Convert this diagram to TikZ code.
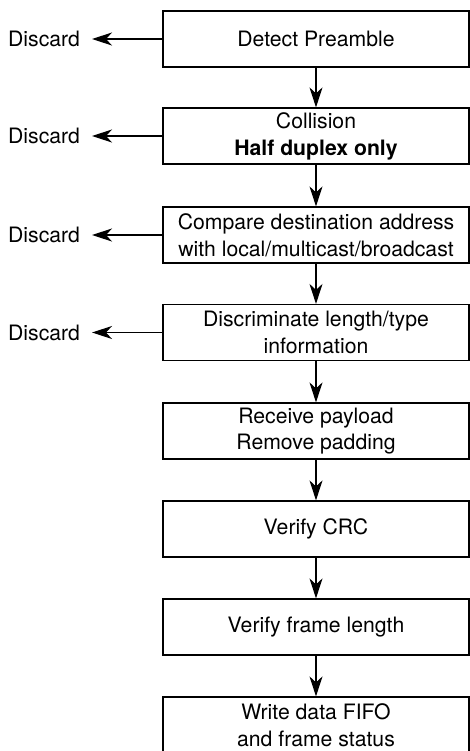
\documentclass[tikz,border=0pt]{standalone}
\usepackage{fontspec}
\setmainfont{TeX Gyre Heros}
\usepackage{tikz}
\usetikzlibrary{arrows.meta}

\begin{document}
\begin{tikzpicture}[
  x=0.5pt, y=-0.5pt,
  stagebox/.style={draw, line width=0.6pt, align=center, minimum width=153pt, minimum height=28pt, inner sep=0pt,
    font=\fontsize{10.6}{13.4}\selectfont},
  discardlabel/.style={anchor=east, inner sep=0pt, outer sep=6pt, font=\fontsize{10.6}{13.4}\selectfont},
  arrow/.style={-{Stealth[length=10pt, width=6.5pt, inset=3pt]}, line width=0.6pt}
]
\useasboundingbox (0,0) rectangle (470,751);

\node[stagebox] (preamble) at (316,39) {Detect Preamble};
\node[stagebox] (collision) at (316,136) {Collision\\\textbf{Half duplex only}};
\node[stagebox] (address) at (316,235) {Compare destination address\\with local/multicast/broadcast};
\node[stagebox] (lentype) at (316,332.5) {Discriminate length/type\\information};
\node[stagebox] (payload) at (316,431) {Receive payload\\Remove padding};
\node[stagebox] (crc) at (316,529) {Verify CRC};
\node[stagebox] (framelen) at (316,627) {Verify frame length};
\node[stagebox] (fifo) at (316,725) {Write data FIFO\\and frame status};

\node[discardlabel] (discA) at (92,39) {Discard};
\node[discardlabel] (discB) at (92,136) {Discard};
\node[discardlabel] (discC) at (92,235) {Discard};
\node[discardlabel] (discD) at (92,332.5) {Discard};

\draw[arrow] (preamble) -- (collision);
\draw[arrow] (collision) -- (address);
\draw[arrow] (address) -- (lentype);
\draw[arrow] (lentype) -- (payload);
\draw[arrow] (payload) -- (crc);
\draw[arrow] (crc) -- (framelen);
\draw[arrow] (framelen) -- (fifo);

\draw[arrow] (preamble.west) -- (discA.east);
\draw[arrow] (collision.west) -- (discB.east);
\draw[arrow] (address.west) -- (discC.east);
\draw[arrow] (lentype.west) -- (discD.east);
\end{tikzpicture}
\end{document}
